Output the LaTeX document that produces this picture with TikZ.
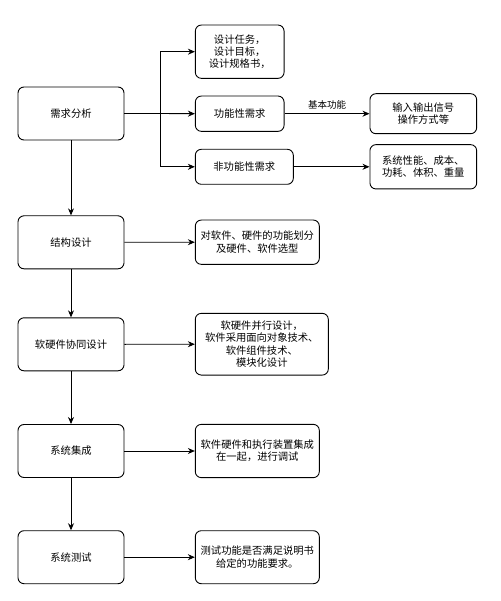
\documentclass[tikz,border=0pt]{standalone}
\usepackage{fontspec}
\setmainfont{Noto Sans CJK SC}
\usetikzlibrary{arrows.meta}
\begin{document}
\begin{tikzpicture}[x=1pt,y=-1pt,
  box/.style={draw,line width=0.9pt,rounded corners=6pt,align=center,inner sep=1pt,
    font=\fontsize{10.3}{12.4}\selectfont},
  arr/.style={line width=0.9pt,-{Stealth[length=7pt,width=6pt]}},
  ln/.style={line width=0.9pt}]
\useasboundingbox (0,0) rectangle (500,601);
\node[box,minimum width=106pt,minimum height=53pt] (A) at (71,113.5) {需求分析};
\node[box,minimum width=106pt,minimum height=53pt] (B) at (71,242.3) {结构设计};
\node[box,minimum width=106pt,minimum height=53pt] (C) at (71,344.3) {软硬件协同设计};
\node[box,minimum width=106pt,minimum height=53pt] (D) at (71,451) {系统集成};
\node[box,minimum width=106pt,minimum height=53pt] (E) at (71,557.2) {系统测试};
\node[box,minimum width=88.7pt,minimum height=53.3pt] (R1) at (239.7,51.7) {设计任务，\\设计目标，\\设计规格书，};
\node[box,minimum width=88.7pt,minimum height=35.3pt] (R2) at (239.7,113.7) {功能性需求};
\node[box,minimum width=98pt,minimum height=35pt] (R3) at (244.3,166.8) {非功能性需求};
\node[box,minimum width=106.7pt,minimum height=40pt] (R4) at (423.3,113.7) {输入输出信号\\操作方式等};
\node[box,minimum width=106.7pt,minimum height=44.3pt] (R5) at (423.3,166.8) {系统性能、成本、\\功耗、体积、重量};
\node[box,minimum width=124pt,minimum height=44.3pt] (S1) at (257.3,242.2) {对软件、硬件的功能划分\\及硬件、软件选型};
\node[box,minimum width=133pt,minimum height=61.7pt] (S2) at (261.8,344.2) {软硬件并行设计，\\软件采用面向对象技术、\\软件组件技术、\\模块化设计};
\node[box,minimum width=124pt,minimum height=53.3pt] (S3) at (257.3,451) {软件硬件和执行装置集成\\在一起，进行调试};
\node[box,minimum width=124pt,minimum height=53pt] (S4) at (257.3,557.2) {测试功能是否满足说明书\\给定的功能要求。};
\coordinate (J) at (160,113.5);
\draw[ln] (A.east) -- (J);
\draw[arr] (J) |- (R1.west);
\draw[arr] (J) -- (R2.west);
\draw[arr] (J) |- (R3.west);
\draw[arr] (R2.east) -- node[above,font=\fontsize{9.5}{11}\selectfont,yshift=1pt]{基本功能} (R4.west);
\draw[arr] (R3.east) -- (R5.west |- R3.east);
\draw[arr] (A.south) -- (B.north);
\draw[arr] (B.south) -- (C.north);
\draw[arr] (C.south) -- (D.north);
\draw[arr] (D.south) -- (E.north);
\draw[arr] (B.east) -- (S1.west);
\draw[arr] (C.east) -- (S2.west);
\draw[arr] (D.east) -- (S3.west);
\draw[arr] (E.east) -- (S4.west);
\end{tikzpicture}
\end{document}
